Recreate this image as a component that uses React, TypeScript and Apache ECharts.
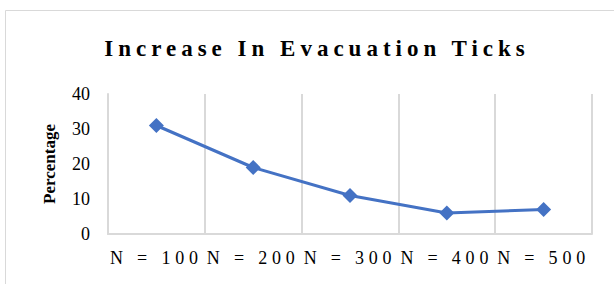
import React, { useEffect, useRef } from "react";
import * as echarts from "echarts";

const titleText = "Increase In Evacuation Ticks";
const categories = ["N = 100", "N = 200", "N = 300", "N = 400", "N = 500"];
const percentages = [31, 19, 11, 6, 7];
const yAxisName = "Percentage";
const yMin = 0;
const yMax = 40;
const yInterval = 10;

export default function App() {
  const ref = useRef<HTMLDivElement>(null);
  useEffect(() => {
    if (!ref.current) return;
    const chart = echarts.init(ref.current, undefined, { renderer: "svg" });
    const serif = "'Liberation Serif', 'Times New Roman', serif";
    chart.setOption({
      animation: false,
      backgroundColor: "#ffffff",
      title: {
        text: titleText,
        left: 312,
        textAlign: "center",
        top: 32,
        textStyle: { fontFamily: serif, fontSize: 23, fontWeight: "bold", color: "#000000" },
      },
      graphic: [
        {
          type: "rect",
          shape: { x: 5.5, y: 10.5, width: 700, height: 400 },
          style: { fill: "none", stroke: "#d9d9d9", lineWidth: 1 },
          silent: true,
          z: -1,
        },
      ],
      grid: { left: 108, right: 22, top: 94, bottom: 50 },
      xAxis: {
        type: "category",
        data: categories,
        boundaryGap: true,
        axisLine: { show: true, lineStyle: { color: "#d9d9d9", width: 2 } },
        axisTick: { show: false },
        splitLine: { show: true, lineStyle: { color: "#d9d9d9", width: 2 } },
        axisLabel: { fontFamily: serif, fontSize: 18, color: "#000000", margin: 15, interval: 0 },
      },
      yAxis: {
        type: "value",
        min: yMin,
        max: yMax,
        interval: yInterval,
        name: yAxisName,
        nameLocation: "middle",
        nameGap: 50,
        nameTextStyle: { fontFamily: serif, fontSize: 17, fontWeight: "bold", color: "#000000" },
        axisLine: { show: true, lineStyle: { color: "#d9d9d9", width: 2 } },
        axisTick: { show: false },
        splitLine: { show: false },
        axisLabel: { fontFamily: serif, fontSize: 18, color: "#000000", margin: 18 },
      },
      series: [
        {
          type: "line",
          data: percentages,
          symbol: "diamond",
          symbolSize: 15,
          lineStyle: { color: "#4472C4", width: 3 },
          itemStyle: { color: "#4472C4" },
        },
      ],
    });
    const applySpacing = () => {
      if (!ref.current) return;
      ref.current.querySelectorAll("text").forEach((t) => {
        const s = t.textContent || "";
        if (s === titleText) t.setAttribute("letter-spacing", "5");
        else if (categories.includes(s)) t.setAttribute("letter-spacing", "4.8");
      });
    };
    applySpacing();
    chart.on("finished", applySpacing);
    return () => chart.dispose();
  }, []);
  return <div ref={ref} style={{ width: 614, height: 284, position: "absolute", left: 0, top: 0 }} />;
}
